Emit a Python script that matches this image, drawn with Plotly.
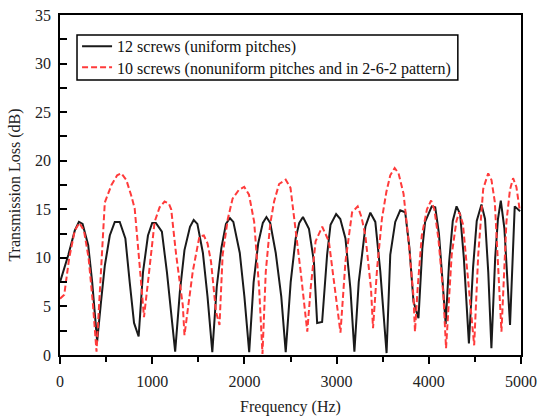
import plotly.graph_objects as go

freq_12 = [0, 90, 160, 205, 245, 306, 349, 403, 445, 486, 540, 594, 648, 709, 756, 803, 853, 900, 954, 1000, 1040, 1105, 1160, 1249,
           1300, 1350, 1410, 1450, 1490, 1550, 1600, 1652, 1700, 1750, 1800, 1843, 1880, 1950, 2000, 2052,
           2100, 2150, 2200, 2239, 2280, 2340, 2400, 2448, 2502, 2556, 2595, 2635, 2700, 2754, 2789, 2843,
           2897, 2934, 2995, 3040, 3096, 3150, 3193, 3240, 3276, 3312, 3366, 3420, 3474, 3542,
           3582, 3636, 3690, 3744, 3790, 3834, 3888, 3930, 3960, 4032, 4070, 4110, 4150, 4183,
           4220, 4260, 4301, 4340, 4380, 4435, 4480, 4520, 4571, 4610, 4645, 4679, 4720, 4750, 4781, 4820, 4881,
           4910, 4932, 4990]
tl_12 = [7.5, 10.3, 12.8, 13.7, 13.5, 11.3, 7.5, 1.4, 5.5, 9.2, 12.3, 13.7, 13.7, 12.0, 7.5, 3.3, 1.9, 8.5, 12.3, 13.6, 13.6, 12.7, 8.5, 0.35,
         6.5, 10.8, 13.2, 13.9, 13.5, 10.5, 6.0, 0.3, 7.0, 11.0, 13.5, 14.1, 13.7, 10.5, 6.0, 0.3,
         7.5, 11.5, 13.6, 14.2, 13.6, 10.5, 6.0, 0.3, 7.5, 12.0, 13.6, 14.2, 13.0, 9.6, 3.3, 3.4,
         10.3, 13.4, 14.5, 14.0, 12.0, 6.8, 0.35, 7.5, 10.3, 13.2, 14.65, 13.7, 8.6, 0.2,
         10.3, 13.7, 14.9, 14.7, 11.0, 5.5, 3.8, 11.0, 13.7, 15.3, 15.2, 12.5, 7.5, 3.2,
         9.5, 13.8, 15.3, 14.5, 10.0, 1.2, 9.0, 13.8, 15.5, 14.0, 8.5, 0.7, 10.0, 14.0, 15.9, 13.0, 3.1,
         11.0, 15.3, 14.8]

freq_10 = [0, 46, 100, 160, 210, 260, 310, 355, 396, 440, 486, 558, 620, 666, 720, 770, 810, 864, 911,
           960, 1026, 1080, 1134, 1180, 1206, 1260, 1332, 1350, 1400, 1440, 1512, 1560, 1600, 1638, 1692, 1730,
           1764, 1820, 1872, 1940, 1998, 2050, 2106, 2160, 2196, 2232, 2280, 2322, 2376, 2448, 2500, 2538, 2610, 2682,
           2720, 2772, 2844, 2916, 3006, 3042, 3096, 3168, 3229, 3270, 3312, 3373, 3395,
           3440, 3492, 3540, 3582, 3630, 3672, 3726, 3780, 3834, 3850, 3880, 3924, 3980, 4025, 4060, 4104, 4158, 4187,
           4220, 4248, 4300, 4330, 4370, 4410, 4463, 4492, 4536, 4590, 4644, 4680, 4716, 4752, 4788,
           4842, 4880, 4914, 4950, 4985]
tl_10 = [5.8, 6.2, 10.0, 12.8, 13.6, 12.8, 10.0, 5.5, 0.35, 8.0, 15.7, 17.5, 18.5, 18.7, 18.0, 16.5, 15.1, 9.2, 3.9,
         8.0, 13.7, 15.2, 15.8, 15.6, 15.0, 10.3, 5.1, 2.05, 5.5, 8.6, 12.2, 12.3, 11.5, 9.6, 4.45, 3.1,
         10.3, 14.0, 16.1, 17.0, 17.3, 16.5, 13.7, 6.85, 0.1, 8.6, 13.5, 15.8, 17.6, 18.05, 17.2, 14.4, 8.6, 2.4,
         7.0, 11.7, 13.2, 11.7, 5.1, 2.3, 9.6, 14.7, 15.3, 14.2, 12.3, 6.85, 2.75,
         9.0, 14.05, 16.8, 18.5, 19.25, 18.7, 16.6, 11.8, 6.0, 2.4, 7.0, 12.3, 15.0, 15.9, 15.0, 12.0, 6.2, 0.7,
         6.0, 10.3, 13.8, 14.7, 13.5, 9.2, 3.4, 1.0, 10.3, 17.1, 18.7, 18.0, 15.75, 8.6, 2.4,
         13.7, 17.0, 18.2, 17.3, 15.0]

name_12 = "12 screws (uniform pitches)"
name_10 = "10 screws (nonuniform pitches and in 2-6-2 pattern)"
x_title = "Frequency (Hz)"
y_title = "Transmission Loss (dB)"

font_family = "Liberation Serif, Times New Roman, serif"
tick_font = dict(family=font_family, size=16, color="#222")
legend_font = dict(family=font_family, size=16, color="#111")

fig = go.Figure()
fig.add_trace(go.Scatter(x=freq_12, y=tl_12, mode="lines", name=name_12, legend="legend",
                         line=dict(color="#1a1a1a", width=2)))
fig.add_trace(go.Scatter(x=freq_10, y=tl_10, mode="lines", name=name_10, legend="legend2",
                         line=dict(color="#ff3b3b", width=2, dash="6px,3px")))

# legend frame (shared by the two single-entry legends)
fig.add_shape(type="rect", xref="paper", yref="paper",
              x0=0.0369, x1=0.863, y0=0.809, y1=0.941,
              line=dict(color="black", width=1.5), fillcolor="white", layer="above")

fig.update_layout(
    width=541, height=418,
    margin=dict(l=60, r=20, t=15, b=63, autoexpand=False),
    paper_bgcolor="white", plot_bgcolor="white",
    font=dict(family=font_family, size=15, color="#222"),
    showlegend=True,
    legend=dict(x=0.037, y=0.908, xanchor="left", yanchor="middle",
                bgcolor="rgba(0,0,0,0)", borderwidth=0,
                font=legend_font, itemwidth=30),
    legend2=dict(x=0.037, y=0.846, xanchor="left", yanchor="middle",
                 bgcolor="rgba(0,0,0,0)", borderwidth=0,
                 font=legend_font, itemwidth=30),
)
fig.update_xaxes(range=[0, 5000], showgrid=False, zeroline=False, automargin=False,
                 showline=True, linecolor="black", linewidth=1.5, mirror=True,
                 ticks="outside", ticklen=7, tickwidth=1.5, tickcolor="black",
                 tickfont=tick_font, ticklabelstandoff=4,
                 tickvals=[0, 1000, 2000, 3000, 4000, 5000],
                 minor=dict(tickvals=[500, 1500, 2500, 3500, 4500], ticks="outside", ticklen=5, tickwidth=1.5, tickcolor="black"),
                 title=dict(text=x_title, standoff=12, font=dict(family=font_family, size=16, color="#222")))
fig.update_yaxes(range=[0, 35], showgrid=False, zeroline=False, automargin=False,
                 showline=True, linecolor="black", linewidth=1.5, mirror=True,
                 ticks="inside", ticklen=7, tickwidth=1.5, tickcolor="black",
                 tickfont=tick_font, ticklabelstandoff=4,
                 tickvals=[0, 5, 10, 15, 20, 25, 30, 35],
                 minor=dict(tickvals=[2.5, 7.5, 12.5, 17.5, 22.5, 27.5, 32.5], ticks="inside", ticklen=7, tickwidth=1.5, tickcolor="black"),
                 title=dict(text=y_title, standoff=10, font=dict(family=font_family, size=16, color="#222")))

fig.write_html("out.html")
